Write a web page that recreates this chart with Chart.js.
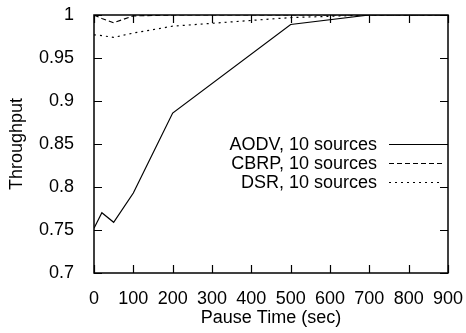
<!DOCTYPE html>
<html>
<head>
<meta charset="utf-8">
<script src="https://cdn.jsdelivr.net/npm/chart.js@4"></script>
<style>
  html, body { margin: 0; padding: 0; background: #fff; }
  #chart { display: block; }
</style>
</head>
<body>
<canvas id="chart" width="466" height="333"></canvas>
<script>
// pause time (sec) on the x axis
const pauseTimes = [0, 20, 50, 100, 200, 500, 700, 900];
const aodvValues = [0.752, 0.770, 0.759, 0.793, 0.886, 0.989, 1.0, 1.0];
const cbrpValues = [1.0, 0.996, 0.991, 0.999, 1.0, 1.0, 1.0, 1.0];
const dsrValues = [0.977, 0.976, 0.974, 0.979, 0.987, 0.997, 1.0, 1.0];
const seriesNames = ["AODV, 10 sources", "CBRP, 10 sources", "DSR, 10 sources"];

const FONT = "'Liberation Sans', Arial, Helvetica, sans-serif";

function toPoints(values) {
  return values.map((v, i) => ({ x: pauseTimes[i], y: v }));
}

// gnuplot-like frame with inward ticks on all four sides
const framePlugin = {
  id: 'frame',
  afterDatasetsDraw(chart) {
    const ctx = chart.ctx;
    const a = chart.chartArea;
    const xs = chart.scales.x, ys = chart.scales.y;
    const len = 8;
    ctx.save();
    ctx.strokeStyle = '#000';
    ctx.lineWidth = 1.5;
    ctx.strokeRect(a.left, a.top, a.right - a.left, a.bottom - a.top);
    ctx.lineWidth = 1.2;
    ctx.beginPath();
    xs.ticks.forEach(t => {
      const px = Math.round(xs.getPixelForValue(t.value)) + 0.5;
      ctx.moveTo(px, a.bottom); ctx.lineTo(px, a.bottom - len);
      ctx.moveTo(px, a.top); ctx.lineTo(px, a.top + len);
    });
    ys.ticks.forEach(t => {
      const py = Math.round(ys.getPixelForValue(t.value)) + 0.5;
      ctx.moveTo(a.left, py); ctx.lineTo(a.left + len, py);
      ctx.moveTo(a.right, py); ctx.lineTo(a.right - len, py);
    });
    ctx.stroke();
    ctx.restore();
  }
};

// key: text first, then the line sample (gnuplot style)
const keyPlugin = {
  id: 'key',
  afterDatasetsDraw(chart) {
    const ctx = chart.ctx;
    const textRight = 377, lineLeft = 389, lineRight = 442;
    const rowTop = 144, rowStep = 18.8;
    ctx.save();
    ctx.font = '18px ' + FONT;
    ctx.textAlign = 'right';
    ctx.textBaseline = 'middle';
    ctx.fillStyle = '#000';
    chart.data.datasets.forEach((ds, i) => {
      const y = rowTop + i * rowStep;
      ctx.fillText(ds.label, textRight, y + 1);
      ctx.beginPath();
      ctx.strokeStyle = ds.borderColor;
      ctx.lineWidth = ds.borderWidth;
      ctx.setLineDash(ds.borderDash || []);
      ctx.moveTo(lineLeft, Math.round(y) + 0.5);
      ctx.lineTo(lineRight, Math.round(y) + 0.5);
      ctx.stroke();
    });
    ctx.restore();
  }
};

new Chart(document.getElementById('chart'), {
  type: 'line',
  data: {
    datasets: [
      { label: seriesNames[0], data: toPoints(aodvValues), borderColor: '#000', borderWidth: 1.2, borderDash: [] },
      { label: seriesNames[1], data: toPoints(cbrpValues), borderColor: '#000', borderWidth: 1.2, borderDash: [5, 3] },
      { label: seriesNames[2], data: toPoints(dsrValues), borderColor: '#000', borderWidth: 1.2, borderDash: [2, 4] }
    ]
  },
  options: {
    responsive: false,
    animation: false,
    elements: { point: { radius: 0 }, line: { tension: 0, fill: false } },
    layout: { padding: { top: 15, right: 18, left: 0, bottom: 0 } },
    plugins: { legend: { display: false }, tooltip: { enabled: false } },
    scales: {
      x: {
        type: 'linear',
        min: 0, max: 900,
        ticks: { stepSize: 100, color: '#000', font: { family: FONT, size: 18 }, padding: 7, maxRotation: 0 },
        grid: { display: false },
        border: { display: false },
        title: { display: true, text: 'Pause Time (sec)', color: '#000', font: { family: FONT, size: 18 }, padding: { top: 0, bottom: 4 } },
        afterFit(scale) { scale.height = 60; scale.paddingLeft = 0; scale.paddingRight = 0; }
      },
      y: {
        min: 0.7, max: 1,
        ticks: {
          stepSize: 0.05, color: '#000', font: { family: FONT, size: 18 }, padding: 12,
          callback: v => String(Number(v.toFixed(2)))
        },
        grid: { display: false },
        border: { display: false },
        title: { display: true, text: 'Throughput', color: '#000', font: { family: FONT, size: 18 }, padding: { top: 6, bottom: 0 } },
        afterFit(scale) { scale.width = 94; scale.paddingTop = 0; scale.paddingBottom = 0; }
      }
    }
  },
  plugins: [framePlugin, keyPlugin]
});
</script>
</body>
</html>
